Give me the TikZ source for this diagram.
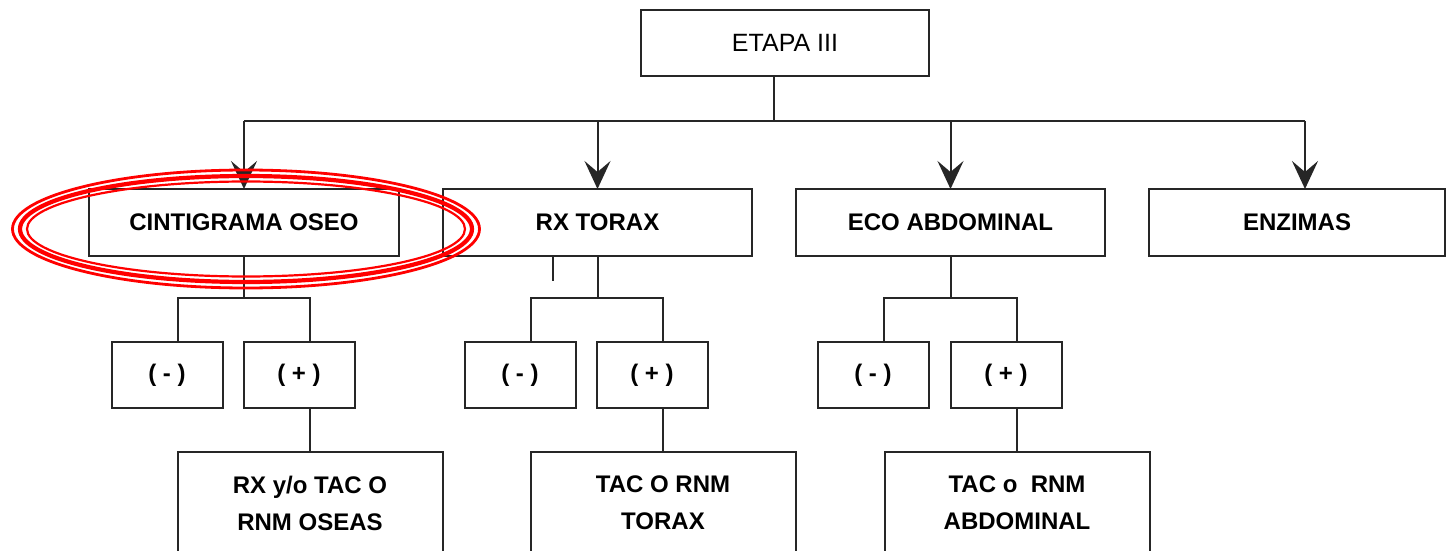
\documentclass[tikz,border=0pt]{standalone}
\usepackage{fontspec}
\setmainfont{Liberation Sans}
\usetikzlibrary{arrows.meta}
\begin{document}
\begin{tikzpicture}[x=0.5pt,y=-0.5pt,
  box/.style={draw=black!85, line width=1pt, fill=white, inner sep=0pt, outer sep=0pt,
    font=\bfseries\fontsize{12}{18.5}\selectfont, align=center},
  sbox/.style={box, minimum width=55.5pt, minimum height=33pt},
  bigbox/.style={box, anchor=north, minimum width=132.5pt, minimum height=60pt},
  txt/.style={inner sep=0pt, font=\bfseries\fontsize{12}{18.5}\selectfont, align=center},
  wire/.style={draw=black!85, line width=1pt},
  arr/.style={wire, -{Stealth[length=14pt,width=13pt,inset=5.5pt]}},
  ring/.style={draw=red}]
\clip (0,0) rectangle (1446,551);
\fill[white] (0,0) rectangle (1446,551);

% top level
\node[box, font=\fontsize{12.5}{15}\selectfont, minimum width=144pt, minimum height=33pt] (etapa) at (785,43) {ETAPA III};

% second level
\node[box, minimum width=155pt, minimum height=33.5pt] (cin) at (244,222.5) {CINTIGRAMA OSEO};
\node[box, minimum width=154.5pt, minimum height=33.5pt] (rx) at (597.5,222.5) {RX TORAX};
\node[box, minimum width=154.5pt, minimum height=33.5pt] (eco) at (950.5,222.5) {ECO ABDOMINAL};
\node[box, minimum width=148pt, minimum height=33.5pt] (enz) at (1297,222.5) {ENZIMAS};

% results
\node[sbox] (cm) at (167,375) {( - )};
\node[sbox] (cp) at (299,375) {( + )};
\node[sbox] (rm) at (520,375) {( - )};
\node[sbox] (rp) at (652,375) {( + )};
\node[sbox] (em) at (873,375) {( - )};
\node[sbox] (ep) at (1006,375) {( + )};

% follow-up studies
\node[bigbox] (fa) at (310,452) {};
\node[bigbox] (fb) at (663,452) {};
\node[bigbox] (fc) at (1017,452) {};
\node[txt] (ta) at (310,503) {RX y/o TAC O\\RNM OSEAS};
\node[txt] (tb) at (663,503) {TAC O RNM\\TORAX};
\node[txt] (tc) at (1017,503) {TAC o\ \ RNM\\ABDOMINAL};

% trunk from the top box
\coordinate (tj) at (774,121);
\coordinate (tl) at (244,121);
\coordinate (tr) at (1305,121);
\draw[wire] (etapa.south -| tj) -- (tj);
\draw[wire] (tl) -- (tr);
\draw[arr] (tl) -- (cin.north);
\draw[arr] (rx.north |- tl) -- (rx.north);
\draw[arr] (eco.north |- tl) -- (eco.north);
\draw[arr] (tr) -- (tr |- enz.north);

% branches to the results
\coordinate (cb) at (244,298);
\coordinate (rb) at (597.5,298);
\coordinate (eb) at (950.5,298);
\draw[wire] (cin.south) -- (cb);
\draw[wire] ([xshift=5.5pt]cm.north) |- (cb) -| ([xshift=5.5pt]cp.north);
\draw[wire] (rx.south) -- (rb);
\draw[wire] ([xshift=5.5pt]rm.north) |- (rb) -| ([xshift=5.5pt]rp.north);
\draw[wire] (eco.south) -- (eb);
\draw[wire] ([xshift=5.5pt]em.north) |- (eb) -| ([xshift=5.5pt]ep.north);

% short tick under RX TORAX
\coordinate (tick) at (553,281);
\draw[wire] (rx.south -| tick) -- (tick);

% positive results lead on
\draw[wire] (fa.north |- cp.south) -- (fa.north);
\draw[wire] (fb.north |- rp.south) -- (fb.north);
\draw[wire] (fc.north |- ep.south) -- (fc.north);

% red highlight rings
\draw[ring, line width=1.4pt] (246,229) ellipse [x radius=116.75pt, y radius=29.5pt];
\draw[ring, line width=2.1pt] (246,229) ellipse [x radius=113pt, y radius=26.5pt];
\draw[ring, line width=1.1pt] (246,229) ellipse [x radius=109.5pt, y radius=23.75pt];
\end{tikzpicture}
\end{document}
